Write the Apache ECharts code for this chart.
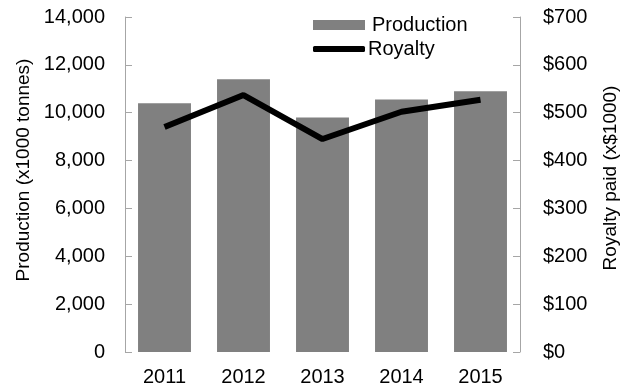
<!DOCTYPE html>
<html><head><meta charset="utf-8">
<script src="https://cdn.jsdelivr.net/npm/echarts@6/dist/echarts.min.js"></script>
<style>html,body{margin:0;padding:0;background:#fff}#c{width:631px;height:390px}</style>
</head><body><div id="c"></div>
<script>
const years = ['2011','2012','2013','2014','2015'];
const production = [10400, 11400, 9800, 10550, 10900];
const royalty = [470, 537, 445, 502, 527];
const leftTicks = {min:0, max:14000, interval:2000};
const rightTicks = {min:0, max:700, interval:100};

const FONT = 'Liberation Sans, Arial, sans-serif';
const FS = 20;
const axisGrey = '#a6a6a6';
const chart = echarts.init(document.getElementById('c'));
chart.setOption({
  animation:false,
  textStyle:{fontFamily:FONT},
  grid:{left:125, right:111, top:17, bottom:38},
  legend:[
    {data:[{name:'Production', icon:'rect'}], left:308, top:10, itemWidth:52, itemHeight:10, itemGap:0,
     textStyle:{fontSize:FS, color:'#000', fontFamily:FONT, padding:[0,0,0,2]}},
    {data:[{name:'Royalty', icon:'roundRect'}], left:308, top:34, itemWidth:52, itemHeight:6, itemGap:0,
     textStyle:{fontSize:FS, color:'#000', fontFamily:FONT, padding:[0,0,0,-2]}}
  ],
  xAxis:{type:'category', data:years,
    axisLine:{show:false}, axisTick:{show:false},
    axisLabel:{fontSize:FS, color:'#000', margin:15, fontFamily:FONT}},
  yAxis:[
    {type:'value', min:leftTicks.min, max:leftTicks.max, interval:leftTicks.interval,
     name:'Production (x1000 tonnes)', nameLocation:'middle', nameGap:92,
     nameTextStyle:{fontSize:19, color:'#000', fontFamily:FONT, padding:[0,0,0,29]},
     axisLine:{show:true, lineStyle:{color:axisGrey, width:1}},
     axisTick:{show:true, inside:true, length:7, lineStyle:{color:axisGrey}},
     splitLine:{show:false},
     axisLabel:{fontSize:FS, color:'#000', margin:20, fontFamily:FONT,
       formatter:v=>v.toLocaleString('en-US')}},
    {type:'value', min:rightTicks.min, max:rightTicks.max, interval:rightTicks.interval,
     name:'Royalty paid (x$1000)', nameLocation:'middle', nameGap:81,
     nameTextStyle:{fontSize:19, color:'#000', fontFamily:FONT, padding:[0,0,0,13]},
     axisLine:{show:true, lineStyle:{color:axisGrey, width:1}},
     axisTick:{show:true, inside:true, length:7, lineStyle:{color:axisGrey}},
     splitLine:{show:false},
     axisLabel:{fontSize:FS, color:'#000', margin:23, fontFamily:FONT,
       formatter:v=>'$'+v}}
  ],
  series:[
    {name:'Production', type:'bar', data:production, barCategoryGap:'33%',
     itemStyle:{color:'#808080'}},
    {name:'Royalty', type:'line', yAxisIndex:1, data:royalty, symbol:'none',
     lineStyle:{color:'#000', width:6}, itemStyle:{color:'#000'}}
  ]
});
</script></body></html>
